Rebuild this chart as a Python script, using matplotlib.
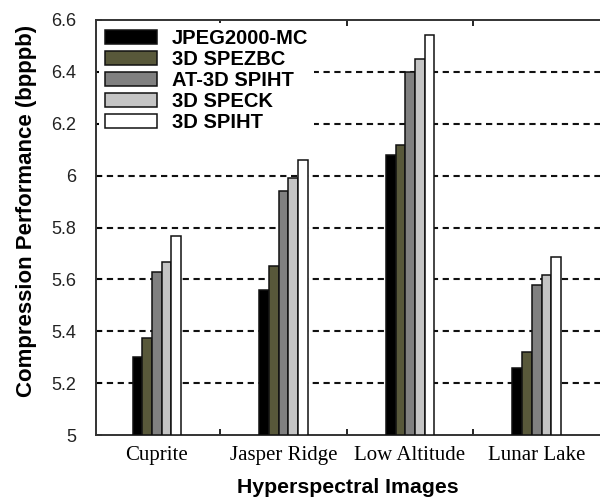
import matplotlib

matplotlib.use("Agg")
import matplotlib.pyplot as plt
import numpy as np

images = ["Cuprite", "Jasper Ridge", "Low Altitude", "Lunar Lake"]
methods = ["JPEG2000-MC", "3D SPEZBC", "AT-3D SPIHT", "3D SPECK", "3D SPIHT"]
jpeg2000_mc = [5.30, 5.56, 6.08, 5.26]
spezbc_3d = [5.375, 5.65, 6.12, 5.32]
at_spiht_3d = [5.627, 5.94, 6.40, 5.58]
speck_3d = [5.668, 5.99, 6.448, 5.619]
spiht_3d = [5.767, 6.06, 6.542, 5.686]
series = [jpeg2000_mc, spezbc_3d, at_spiht_3d, speck_3d, spiht_3d]
colors = ["#000000", "#58583a", "#808080", "#c4c4c4", "#ffffff"]

SANS = ["Liberation Sans", "DejaVu Sans"]
SERIF = ["Liberation Serif", "DejaVu Serif"]

fig = plt.figure(figsize=(6.0, 4.99), dpi=100)
ax = fig.add_axes([0.16, 0.128, 0.84, 0.832])

x = np.arange(1, len(images) + 1)
w = 0.0765
for i, (vals, col) in enumerate(zip(series, colors)):
    ax.bar(x + (i - 2) * w, np.array(vals) - 5, w, bottom=5, color=col,
           edgecolor="#111111", linewidth=1.1, label=methods[i], zorder=3)

ax.set_xlim(0.52, 4.5)
ax.set_ylim(5, 6.6)
yt = [5, 5.2, 5.4, 5.6, 5.8, 6, 6.2, 6.4, 6.6]
ax.set_yticks(yt)
ax.set_yticklabels(["5", "5.2", "5.4", "5.6", "5.8", "6", "6.2", "6.4", "6.6"],
                   family=SANS, fontsize=13, color="#222222")
for v in yt[1:-1]:
    ax.axhline(v, color="#111111", lw=1.5, ls=(0, (3, 2.2)), zorder=1)

# ticks sit between groups, labels under each group
ax.set_xticks([1.5, 2.5, 3.5])
ax.set_xticklabels([])
ax.set_xticks(x, minor=True)
ax.set_xticklabels(images, minor=True, family=SERIF, fontsize=15)
ax.tick_params(axis="x", which="minor", length=0, pad=8)
ax.tick_params(axis="x", which="major", direction="in", length=4,
               top=True, width=1.2)
ax.tick_params(axis="y", direction="in", length=4, width=1.2, pad=14)

for s in ax.spines.values():
    s.set_linewidth(1.4)
    s.set_color("#333333")
ax.spines["right"].set_visible(False)

ax.set_xlabel("Hyperspectral Images", family=SANS, fontweight="bold",
              fontsize=15.3, labelpad=9)
ax.set_ylabel("Compression Performance (bpppb)", family=SANS,
              fontweight="bold", fontsize=16)
ax.yaxis.set_label_coords(-0.117, 0.54)

leg = ax.legend(loc="upper left", bbox_to_anchor=(0.0, 1.0),
                prop={"family": SANS, "weight": "bold", "size": 14.5},
                handlelength=2.6, handleheight=0.72, handletextpad=0.7,
                labelspacing=0.1, borderpad=0.3, borderaxespad=0.15,
                frameon=True, fancybox=False, framealpha=1.0)
leg.get_frame().set_edgecolor("none")
leg.set_zorder(5)

fig.savefig("out.png", dpi=100)
